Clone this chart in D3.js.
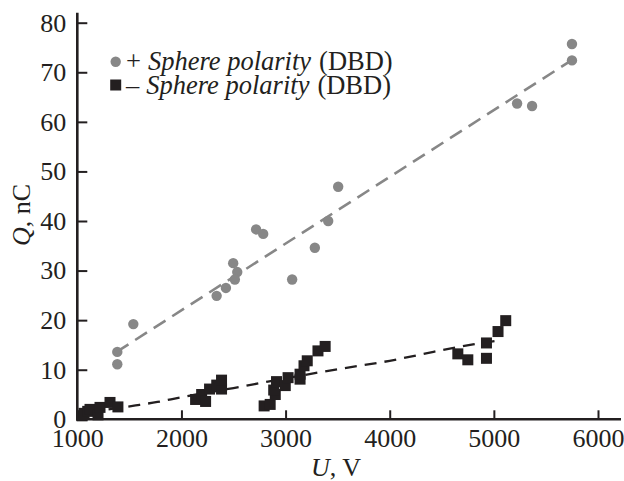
<!DOCTYPE html>
<html>
<head>
<meta charset="utf-8">
<script src="https://cdn.jsdelivr.net/npm/d3@7"></script>
<style>
  html, body { margin: 0; padding: 0; background: #fff; }
  svg { display: block; }
  text { font-family: "Liberation Serif", "Times New Roman", serif; fill: #231f20; }
</style>
</head>
<body>
<svg id="chart" width="624" height="481"></svg>
<script>
// Positive sphere polarity (DBD): voltage U (V) and charge Q (nC)
const posU = [1384, 1384, 1538, 2338, 2427, 2497, 2536, 2513, 2717, 2785,
              3063, 3281, 3409, 3505, 5223, 5367, 5750, 5750];
const posQ = [13.6, 11.1, 19.2, 24.9, 26.5, 31.5, 29.7, 28.2, 38.3, 37.4,
              28.2, 34.6, 40.0, 46.9, 63.7, 63.2, 75.7, 72.4];

// Negative sphere polarity (DBD)
const negU = [1046, 1065, 1100, 1122, 1199, 1218, 1314, 1390,
              2136, 2194, 2232, 2270, 2339, 2385, 2385,
              2794, 2852, 2901, 2886, 2913, 2997, 3024, 3139, 3139, 3177, 3208, 3311, 3380,
              4654, 4750, 4929, 4929, 5040, 5114];
const negQ = [0.7, 1.2, 1.6, 2.0, 0.9, 2.4, 3.4, 2.5,
              4.0, 5.0, 3.6, 6.1, 6.9, 6.1, 7.9,
              2.7, 3.0, 5.0, 5.9, 7.6, 6.8, 8.4, 8.1, 9.1, 10.8, 11.8, 13.8, 14.7,
              13.2, 12.0, 15.4, 12.3, 17.7, 19.9];

// Fitted trend lines
const posTrendU = [1378, 5745];
const posTrendQ = [13.6, 72.4];
const negTrendU = [1300, 1560, 1770, 1990, 2250, 2500, 2830, 3280, 3500, 4000, 4420, 4800, 5075];
const negTrendQ = [2.0, 2.8, 3.5, 4.4, 5.4, 6.3, 7.6, 9.3, 10.1, 11.8, 13.6, 15.1, 16.0];

// Axis ticks
const xTicks = [1000, 2000, 3000, 4000, 5000, 6000];
const yTicks = [0, 10, 20, 30, 40, 50, 60, 70, 80];

// Legend entries: sign, italic name, plain suffix
const legendSigns = ["+", "\u2013"];
const legendNames = ["Sphere polarity", "Sphere polarity"];
const legendSuffix = ["(DBD)", "(DBD)"];

const ink = "#231f20";
const grey = "#878787";

const svg = d3.select("#chart");

const x = d3.scaleLinear().domain([1000, 6000]).range([77.3, 598]);
const y = d3.scaleLinear().domain([0, 80]).range([419.3, 22.7]);

const fontSize = 26;

// trend lines (under the markers)
const line = d3.line().x(d => x(d[0])).y(d => y(d[1]));
svg.append("path")
  .datum(posTrendU.map((u, i) => [u, posTrendQ[i]]))
  .attr("d", line)
  .attr("fill", "none")
  .attr("stroke", grey)
  .attr("stroke-width", 2.6)
  .attr("stroke-dasharray", "14 8");

svg.append("path")
  .datum(negTrendU.map((u, i) => [u, negTrendQ[i]]))
  .attr("d", line.curve(d3.curveMonotoneX))
  .attr("fill", "none")
  .attr("stroke", ink)
  .attr("stroke-width", 2.3)
  .attr("stroke-dasharray", "12 8");

// markers
svg.append("g").selectAll("circle")
  .data(posU.map((u, i) => [u, posQ[i]]))
  .join("circle")
  .attr("cx", d => x(d[0]))
  .attr("cy", d => y(d[1]))
  .attr("r", 5.2)
  .attr("fill", grey);

const sq = 11;
svg.append("g").selectAll("rect")
  .data(negU.map((u, i) => [u, negQ[i]]))
  .join("rect")
  .attr("x", d => x(d[0]) - sq / 2)
  .attr("y", d => y(d[1]) - sq / 2)
  .attr("width", sq)
  .attr("height", sq)
  .attr("fill", ink);

// axes
const xAxis = svg.append("g")
  .attr("transform", `translate(0,${y(0)})`)
  .call(d3.axisBottom(x).tickValues(xTicks).tickFormat(d3.format("d")).tickSizeInner(-9).tickSizeOuter(0));
xAxis.select(".domain").remove();
xAxis.selectAll(".tick line").attr("stroke", ink).attr("stroke-width", 2);
xAxis.selectAll(".tick text")
  .attr("font-size", fontSize)
  .attr("font-family", "Liberation Serif")
  .attr("fill", ink)
  .attr("dy", "0.71em")
  .attr("y", 9);

const yAxis = svg.append("g")
  .attr("transform", `translate(${x(1000)},0)`)
  .call(d3.axisLeft(y).tickValues(yTicks).tickFormat(d3.format("d")).tickSizeInner(-10).tickSizeOuter(0));
yAxis.select(".domain").remove();
yAxis.selectAll(".tick line").attr("stroke", ink).attr("stroke-width", 2);
yAxis.selectAll(".tick text")
  .attr("font-size", fontSize)
  .attr("font-family", "Liberation Serif")
  .attr("fill", ink)
  .attr("x", -11);

// axis lines
svg.append("line")
  .attr("x1", x(1000)).attr("x2", x(1000))
  .attr("y1", 12.7).attr("y2", y(0) + 1.3)
  .attr("stroke", ink).attr("stroke-width", 2.6);
svg.append("line")
  .attr("x1", x(1000) - 1.3).attr("x2", 621)
  .attr("y1", y(0)).attr("y2", y(0))
  .attr("stroke", ink).attr("stroke-width", 2.6);

// axis titles
const yTitle = svg.append("text")
  .attr("transform", "translate(30,215) rotate(-90)")
  .attr("text-anchor", "middle")
  .attr("font-size", fontSize);
yTitle.append("tspan").attr("font-style", "italic").text("Q");
yTitle.append("tspan").text(", nC");

const xTitle = svg.append("text")
  .attr("x", 336).attr("y", 476)
  .attr("text-anchor", "middle")
  .attr("font-size", fontSize);
xTitle.append("tspan").attr("font-style", "italic").text("U");
xTitle.append("tspan").text(", V");

// legend: each line is laid out piece by piece
const legend = svg.append("g");
legend.append("circle").attr("cx", 115.7).attr("cy", 61.7).attr("r", 5.2).attr("fill", grey);
legend.append("rect").attr("x", 115.7 - 5.5).attr("y", 85 - 5.5).attr("width", 11).attr("height", 11).attr("fill", ink);
const legendFont = 26.5;
[69.5, 93.5].forEach((by, i) => {
  let cx = 126;
  const parts = [
    { s: legendSigns[i], italic: false, gap: 7 },
    { s: legendNames[i], italic: true, gap: 8 },
    { s: legendSuffix[i], italic: false, gap: 0 }
  ];
  parts.forEach(p => {
    const t = legend.append("text")
      .attr("x", cx).attr("y", by)
      .attr("font-size", legendFont)
      .attr("font-style", p.italic ? "italic" : "normal")
      .text(p.s);
    cx += t.node().getComputedTextLength() + p.gap;
  });
});
</script>
</body>
</html>
